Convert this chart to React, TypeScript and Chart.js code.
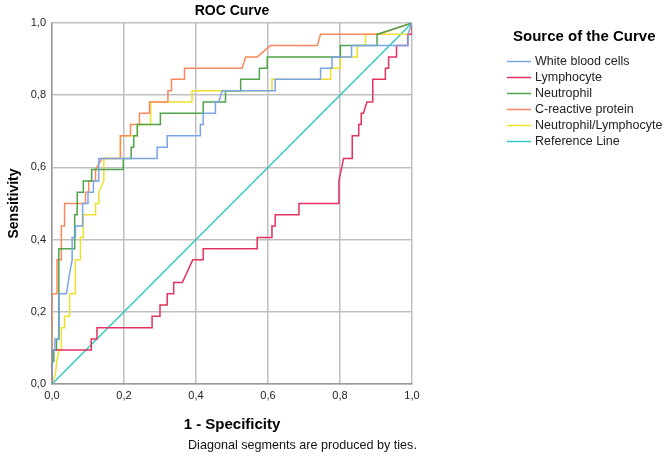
import React, { useEffect, useRef } from "react";
import { Chart, registerables } from "chart.js";

Chart.register(...registerables);

type P = [number, number];

const seriesLabels = [
  "White blood cells",
  "Lymphocyte",
  "Neutrophil",
  "C-reactive protein",
  "Neutrophil/Lymphocyte",
  "Reference Line",
];

const wbcPoints: P[] = [
  [0, 0], [0, 0.094], [0.008, 0.094], [0.008, 0.125], [0.02, 0.125], [0.02, 0.25],
  [0.04, 0.25], [0.049, 0.307], [0.056, 0.344], [0.056, 0.406], [0.065, 0.406],
  [0.065, 0.4375], [0.085, 0.4375], [0.085, 0.5], [0.1, 0.5], [0.1, 0.531],
  [0.115, 0.531], [0.115, 0.5625], [0.13, 0.5625], [0.13, 0.625], [0.292, 0.625],
  [0.292, 0.656], [0.32, 0.656], [0.32, 0.6875], [0.412, 0.6875], [0.412, 0.719],
  [0.42, 0.719], [0.42, 0.75], [0.454, 0.75], [0.454, 0.781], [0.463, 0.781],
  [0.473, 0.8125], [0.62, 0.8125], [0.62, 0.844], [0.746, 0.844], [0.746, 0.875],
  [0.778, 0.875], [0.778, 0.906], [0.832, 0.906], [0.832, 0.9375], [0.989, 0.9375],
  [0.989, 0.969], [1, 1],
];

const lymphPoints: P[] = [
  [0, 0], [0, 0.094], [0.109, 0.094], [0.109, 0.125], [0.125, 0.125], [0.125, 0.156],
  [0.278, 0.156], [0.278, 0.188], [0.3, 0.188], [0.3, 0.219], [0.32, 0.219], [0.32, 0.25],
  [0.338, 0.25], [0.338, 0.281], [0.362, 0.281], [0.391, 0.344], [0.42, 0.344],
  [0.42, 0.375], [0.57, 0.375], [0.57, 0.406], [0.611, 0.406], [0.611, 0.4375],
  [0.62, 0.4375], [0.62, 0.469], [0.686, 0.469], [0.686, 0.5], [0.797, 0.5],
  [0.797, 0.5625], [0.81, 0.625], [0.834, 0.625], [0.834, 0.6875], [0.852, 0.6875],
  [0.852, 0.719], [0.859, 0.719], [0.859, 0.75], [0.865, 0.75], [0.875, 0.781],
  [0.891, 0.781], [0.891, 0.844], [0.926, 0.844], [0.926, 0.875], [0.935, 0.875],
  [0.935, 0.906], [0.957, 0.906], [0.957, 0.9375], [0.988, 0.9375], [0.988, 0.969],
  [1, 0.969], [1, 1],
];

const neutPoints: P[] = [
  [0, 0], [0, 0.0625], [0.005, 0.0625], [0.005, 0.094], [0.0125, 0.094], [0.0125, 0.125],
  [0.019, 0.125], [0.019, 0.375], [0.063, 0.375], [0.063, 0.469], [0.07, 0.469],
  [0.07, 0.531], [0.087, 0.531], [0.087, 0.5625], [0.11, 0.5625], [0.11, 0.594],
  [0.198, 0.594], [0.198, 0.625], [0.22, 0.625], [0.22, 0.656], [0.227, 0.656],
  [0.227, 0.6875], [0.237, 0.6875], [0.237, 0.719], [0.301, 0.719], [0.301, 0.75],
  [0.42, 0.75], [0.42, 0.781], [0.482, 0.781], [0.482, 0.8125], [0.524, 0.8125],
  [0.524, 0.844], [0.576, 0.844], [0.576, 0.875], [0.598, 0.875], [0.598, 0.906],
  [0.801, 0.906], [0.801, 0.9375], [0.903, 0.9375], [0.903, 0.969], [1, 1],
];

const crpPoints: P[] = [
  [0, 0], [0, 0.25], [0.014, 0.25], [0.014, 0.344], [0.026, 0.344], [0.026, 0.4375],
  [0.035, 0.4375], [0.035, 0.5], [0.093, 0.5], [0.093, 0.531], [0.102, 0.531],
  [0.102, 0.5625], [0.121, 0.5625], [0.121, 0.594], [0.139, 0.625], [0.19, 0.625],
  [0.19, 0.6875], [0.218, 0.6875], [0.218, 0.719], [0.243, 0.719], [0.243, 0.75],
  [0.271, 0.75], [0.271, 0.781], [0.322, 0.781], [0.322, 0.8125], [0.332, 0.8125],
  [0.332, 0.844], [0.368, 0.844], [0.368, 0.875], [0.528, 0.875], [0.538, 0.906],
  [0.57, 0.906], [0.607, 0.9375], [0.737, 0.9375], [0.746, 0.969], [0.908, 0.969],
  [1, 1],
];

const nlrPoints: P[] = [
  [0, 0], [0.01, 0.03], [0.013, 0.0625], [0.02, 0.094], [0.026, 0.094], [0.026, 0.156],
  [0.035, 0.156], [0.035, 0.188], [0.049, 0.188], [0.049, 0.25], [0.065, 0.25],
  [0.065, 0.344], [0.079, 0.344], [0.079, 0.406], [0.087, 0.406], [0.087, 0.469],
  [0.121, 0.469], [0.121, 0.5], [0.13, 0.5], [0.13, 0.531], [0.144, 0.5625],
  [0.144, 0.625], [0.19, 0.625], [0.19, 0.6875], [0.237, 0.6875], [0.237, 0.719],
  [0.274, 0.719], [0.274, 0.781], [0.389, 0.781], [0.389, 0.8125], [0.611, 0.8125],
  [0.611, 0.844], [0.774, 0.844], [0.774, 0.875], [0.801, 0.875], [0.801, 0.906],
  [0.848, 0.906], [0.848, 0.9375], [0.871, 0.9375], [0.871, 0.969], [1, 0.969], [1, 1],
];

const refPoints: P[] = [[0, 0], [1, 1]];

const seriesColors = ["#78a5e8", "#e2325d", "#4fa34a", "#fa8a5e", "#efe02c", "#35c8bf"];

const axisTicks = [0, 0.2, 0.4, 0.6, 0.8, 1.0];

const FONT = "'Liberation Sans', Arial, sans-serif";

const overlayPlugin = {
  id: "overlay",
  afterDraw(chart: any) {
    const ctx = chart.ctx;
    const area = chart.chartArea;
    ctx.save();
    ctx.fillStyle = "#000";
    ctx.font = `bold 14px ${FONT}`;
    ctx.textAlign = "center";
    ctx.textBaseline = "middle";
    ctx.fillText("ROC Curve", (area.left + area.right) / 2, 11);
    ctx.font = `bold 15px ${FONT}`;
    ctx.fillText("1 - Specificity", (area.left + area.right) / 2, 425);
    ctx.save();
    ctx.translate(14, (area.top + area.bottom) / 2);
    ctx.rotate(-Math.PI / 2);
    ctx.font = `bold 14px ${FONT}`;
    ctx.fillText("Sensitivity", 0, 0);
    ctx.restore();
    ctx.font = `12.6px ${FONT}`;
    ctx.textAlign = "left";
    ctx.fillStyle = "#111";
    ctx.fillText("Diagonal segments are produced by ties.", 188, 446);
    ctx.fillStyle = "#000";
    ctx.font = `bold 15px ${FONT}`;
    ctx.textAlign = "left";
    ctx.fillText("Source of the Curve", 513, 37);
    ctx.font = `12.5px ${FONT}`;
    chart.data.datasets.forEach((ds: any, i: number) => {
      const y = 61.5 + i * 16;
      ctx.strokeStyle = ds.borderColor;
      ctx.lineWidth = 1.5;
      ctx.beginPath();
      ctx.moveTo(507, y);
      ctx.lineTo(531, y);
      ctx.stroke();
      ctx.fillStyle = "#222";
      ctx.fillText(ds.label, 535, y);
    });
    ctx.restore();
  },
};

export default function App() {
  const ref = useRef<HTMLCanvasElement>(null);
  useEffect(() => {
    if (!ref.current) return;
    const all = [wbcPoints, lymphPoints, neutPoints, crpPoints, nlrPoints, refPoints];
    const chart = new Chart(ref.current, {
      type: "line",
      data: {
        datasets: all.map((pts, i) => ({
          label: seriesLabels[i],
          data: pts.map(([x, y]) => ({ x, y })),
          borderColor: seriesColors[i],
          backgroundColor: seriesColors[i],
          borderWidth: 1.5,
          pointRadius: 0,
          tension: 0,
          fill: false,
        })),
      },
      options: {
        responsive: false,
        animation: false,
        layout: { padding: { top: 23, right: 252, left: 0, bottom: 0 } },
        plugins: { legend: { display: false }, title: { display: false }, tooltip: { enabled: false } },
        scales: {
          x: {
            type: "linear",
            min: 0,
            max: 1,
            afterBuildTicks: (s: any) => { s.ticks = axisTicks.map((v) => ({ value: v })); },
            afterFit: (s: any) => { s.height = 81; },
            grid: { color: "#c0c0c0", lineWidth: 1.5, drawTicks: false },
            border: { color: "#999", width: 1.5 },
            ticks: {
              padding: 5,
              color: "#222",
              font: { family: FONT, size: 11 },
              maxRotation: 0,
              callback: (v: any) => Number(v).toFixed(1).replace(".", ","),
            },
          },
          y: {
            type: "linear",
            min: 0,
            max: 1,
            afterBuildTicks: (s: any) => { s.ticks = axisTicks.map((v) => ({ value: v })); },
            afterFit: (s: any) => { s.width = 52; },
            grid: { color: "#c0c0c0", lineWidth: 1.5, drawTicks: false },
            border: { color: "#999", width: 1.5 },
            ticks: {
              padding: 6,
              color: "#222",
              font: { family: FONT, size: 11 },
              callback: (v: any) => Number(v).toFixed(1).replace(".", ","),
            },
          },
        },
      },
      plugins: [overlayPlugin],
    });
    return () => chart.destroy();
  }, []);
  return (
    <div style={{ position: "absolute", left: 0, top: 0, width: 664, height: 465, background: "#fff" }}>
      <canvas ref={ref} width={664} height={465} style={{ display: "block" }} />
    </div>
  );
}
